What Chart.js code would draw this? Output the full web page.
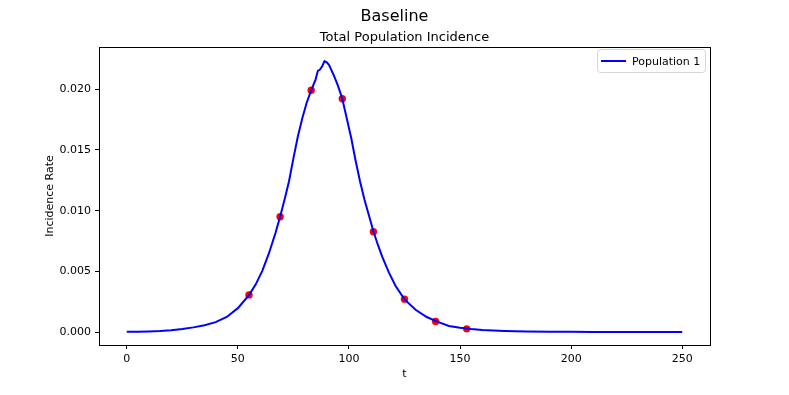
<!DOCTYPE html>
<html>
<head>
<meta charset="utf-8">
<script src="https://cdn.jsdelivr.net/npm/chart.js@4"></script>
<style>
  html, body { margin: 0; padding: 0; background: #fff; }
  #wrap { width: 789px; height: 395px; }
</style>
</head>
<body>
<div id="wrap"><canvas id="incidenceChart" width="789" height="395"></canvas></div>
<script>
// model curve
const curveT = [0, 5, 10, 15, 20, 25, 30, 35, 40, 45, 50, 55, 58, 61, 64, 67, 69, 71, 73, 75, 77, 79,
  81, 83, 85, 86, 87, 88, 89, 90, 91, 92, 93, 95, 97, 99, 101, 103, 105, 107, 109, 111,
  113, 115, 118, 121, 125, 130, 135, 140, 145, 150, 155, 160, 170, 180, 190, 200, 210, 220, 230, 240, 250];
const curveVals = [0.00003, 0.00004, 0.00006, 0.00010, 0.00017, 0.00027, 0.00040, 0.00058, 0.00083, 0.00126,
  0.00198, 0.00305, 0.00392, 0.00505, 0.0065, 0.0082, 0.0095, 0.0109, 0.0124, 0.0143, 0.0161, 0.0176,
  0.0189, 0.0199, 0.0208, 0.0215, 0.0216, 0.0219, 0.0223, 0.0222, 0.0220, 0.0216,
  0.0212, 0.0203, 0.0192, 0.0176, 0.0160, 0.0141, 0.0124, 0.0109, 0.0096, 0.0083,
  0.0072, 0.0062, 0.0049, 0.0038, 0.0027, 0.00185, 0.00125, 0.00085, 0.00052, 0.00036,
  0.00026, 0.00019, 0.00011, 0.00007, 0.00004, 0.00003, 0.00002, 0.00001, 0.00001, 0.00001, 0.00001];

// observed points (red dots)
const obsT = [55, 69, 83, 97, 111, 125, 139, 153];
const obsVals = [0.00307, 0.0095, 0.0199, 0.0192, 0.00827, 0.00272, 0.00089, 0.00028];

const xTicks = [0, 50, 100, 150, 200, 250];
const yTicks = [0, 0.005, 0.010, 0.015, 0.020];

const seriesLabel = 'Population 1';
const FONT = "'DejaVu Sans', sans-serif";

// titles, axis labels, frame and legend in matplotlib style
const decorations = {
  id: 'decorations',
  afterDraw(chart) {
    const { ctx, chartArea: a } = chart;
    ctx.save();
    // frame
    ctx.strokeStyle = '#000';
    ctx.lineWidth = 1;
    ctx.strokeRect(Math.round(a.left) + 0.5, Math.round(a.top) + 0.5,
      Math.round(a.right - a.left), Math.round(a.bottom - a.top));

    ctx.fillStyle = '#000';
    ctx.textAlign = 'center';
    ctx.textBaseline = 'middle';
    ctx.font = `16px ${FONT}`;
    ctx.fillText('Baseline', 394.5, 17);
    ctx.font = `13px ${FONT}`;
    ctx.fillText('Total Population Incidence', (a.left + a.right) / 2, 37.5);
    ctx.font = `11px ${FONT}`;
    ctx.fillText('t', (a.left + a.right) / 2, 374);
    ctx.save();
    ctx.translate(50, (a.top + a.bottom) / 2);
    ctx.rotate(-Math.PI / 2);
    ctx.fillText('Incidence Rate', 0, 0);
    ctx.restore();

    // legend box
    const bx = 597, by = 49, bw = 108, bh = 23;
    ctx.beginPath();
    ctx.roundRect(bx + 0.5, by + 0.5, bw, bh, 3);
    ctx.fillStyle = 'rgba(255,255,255,0.8)';
    ctx.fill();
    ctx.strokeStyle = '#d6d6d6';
    ctx.stroke();
    ctx.beginPath();
    ctx.moveTo(601, 61);
    ctx.lineTo(626, 61);
    ctx.strokeStyle = '#0000ff';
    ctx.lineWidth = 2;
    ctx.stroke();
    ctx.fillStyle = '#000';
    ctx.textAlign = 'left';
    ctx.font = `11px ${FONT}`;
    ctx.fillText(seriesLabel, 632, 62);
    ctx.restore();
  }
};

new Chart(document.getElementById('incidenceChart').getContext('2d'), {
  type: 'line',
  data: {
    datasets: [{
      label: seriesLabel,
      data: curveT.map((t, i) => ({ x: t, y: curveVals[i] })),
      borderColor: '#0000ff',
      borderWidth: 2,
      pointRadius: 0,
      tension: 0,
      fill: false,
      order: 0
    }, {
      label: 'Observed',
      data: obsT.map((t, i) => ({ x: t, y: obsVals[i] })),
      showLine: false,
      pointRadius: 3.7,
      pointBackgroundColor: '#ff0000',
      pointBorderColor: '#ff0000',
      pointBorderWidth: 0,
      order: 1
    }]
  },
  options: {
    responsive: false,
    animation: false,
    layout: { padding: { top: 47, right: 79, bottom: 0, left: 0 } },
    plugins: {
      legend: { display: false },
      title: { display: false },
      tooltip: { enabled: false }
    },
    scales: {
      x: {
        type: 'linear',
        min: -12.5,
        max: 262.5,
        afterFit(scale) { scale.height = 50; },
        afterBuildTicks(scale) { scale.ticks = xTicks.map(v => ({ value: v })); },
        grid: { display: true, drawOnChartArea: false, drawTicks: true, tickLength: 4, color: '#000' },
        border: { display: true, color: '#000', width: 1 },
        ticks: { color: '#000', font: { family: FONT, size: 11 }, padding: 4, maxRotation: 0 }
      },
      y: {
        type: 'linear',
        min: -0.00105,
        max: 0.02346,
        afterFit(scale) { scale.width = 99; },
        afterBuildTicks(scale) { scale.ticks = yTicks.map(v => ({ value: v })); },
        grid: { display: true, drawOnChartArea: false, drawTicks: true, tickLength: 4, color: '#000' },
        border: { display: true, color: '#000', width: 1 },
        ticks: {
          color: '#000', font: { family: FONT, size: 11 }, padding: 4,
          callback: v => v.toFixed(3)
        }
      }
    }
  },
  plugins: [decorations]
});
</script>
</body>
</html>
